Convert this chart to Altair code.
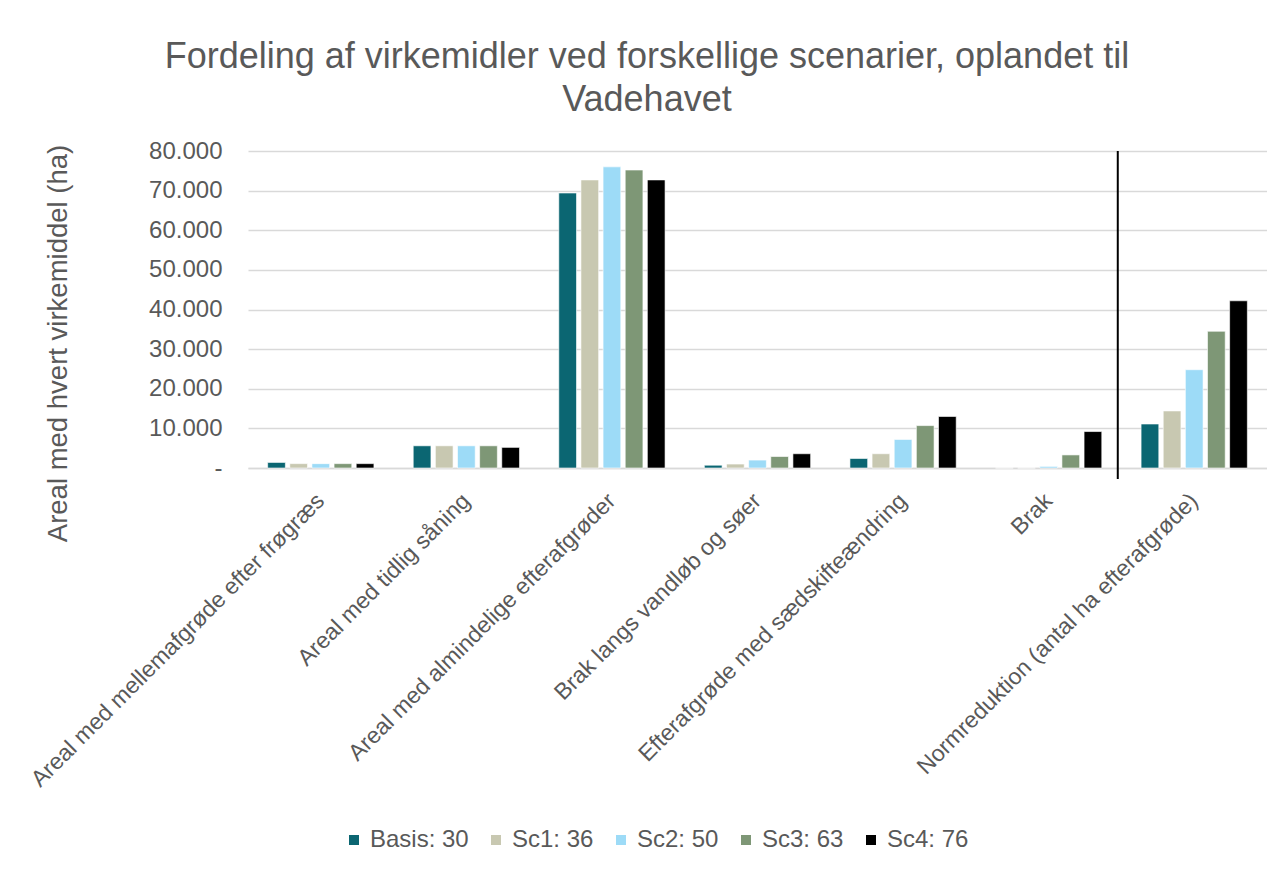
import altair as alt
import pandas as pd

categories = [
    "Areal med mellemafgrøde efter frøgræs",
    "Areal med tidlig såning",
    "Areal med almindelige efterafgrøder",
    "Brak langs vandløb og søer",
    "Efterafgrøde med sædskifteændring",
    "Brak",
    "Normreduktion (antal ha efterafgrøde)",
]
scenarios = ["Basis: 30", "Sc1: 36", "Sc2: 50", "Sc3: 63", "Sc4: 76"]
colors = ["#0b6672", "#c8c8b1", "#9ddbf7", "#7e9776", "#000000"]

basis = [1400, 5600, 69400, 700, 2400, 0, 11100]
sc1 = [1100, 5600, 72700, 1000, 3600, 0, 14400]
sc2 = [1100, 5600, 76000, 2000, 7200, 400, 24800]
sc3 = [1100, 5600, 75200, 2900, 10700, 3300, 34500]
sc4 = [1100, 5200, 72700, 3600, 13000, 9200, 42200]

series = [basis, sc1, sc2, sc3, sc4]
rows = []
for s, vals in zip(scenarios, series):
    for c, v in zip(categories, vals):
        rows.append({"kat": c, "scen": s, "val": v})
df = pd.DataFrame(rows)

sep_df = pd.DataFrame({"kat": ["Brak"]})

FONT = "Liberation Sans"
GREY = "#595959"

xscale = alt.Scale(domain=categories, paddingInner=0.27, paddingOuter=0.135)

bars = alt.Chart(df).mark_bar(stroke="white", strokeWidth=0.6).encode(
    x=alt.X(
        "kat:N",
        scale=xscale,
        sort=categories,
        axis=alt.Axis(
            title=None,
            labelAngle=-45,
            labelAlign="right",
            labelBaseline="middle",
            labelFontSize=23,
            labelColor=GREY,
            labelFont=FONT,
            labelPadding=29,
            ticks=False,
            domainColor="#d9d9d9",
            domainWidth=1.5,
            labelLimit=700,
        ),
    ),
    xOffset=alt.XOffset("scen:N", sort=scenarios, scale=alt.Scale(paddingInner=0.2)),
    y=alt.Y(
        "val:Q",
        scale=alt.Scale(domain=[0, 80000]),
        axis=alt.Axis(
            title="Areal med hvert virkemiddel (ha)",
            titleFontSize=27.5,
            titleFontWeight="normal",
            titleColor=GREY,
            titleFont=FONT,
            titlePadding=76,
            titleY=192,
            values=[0, 10000, 20000, 30000, 40000, 50000, 60000, 70000, 80000],
            labelExpr="datum.value == 0 ? '-' : replace(format(datum.value, ','), ',', '.')",
            labelFontSize=24,
            labelColor=GREY,
            labelFont=FONT,
            labelPadding=26,
            ticks=False,
            domain=False,
            gridColor="#d9d9d9",
            gridWidth=1.5,
        ),
    ),
    color=alt.Color(
        "scen:N",
        sort=scenarios,
        scale=alt.Scale(domain=scenarios, range=colors),
        legend=alt.Legend(
            title=None,
            orient="none",
            legendX=94,
            legendY=677,
            direction="horizontal",
            gridAlign="none",
            symbolType="square",
            symbolSize=100,
            symbolStrokeWidth=0,
            labelFontSize=24,
            labelColor=GREY,
            labelFont=FONT,
            columnPadding=15,
            labelOffset=4,
        ),
    ),
)

sep = alt.Chart(sep_df).mark_rule(color="black", strokeWidth=2, xOffset=16).encode(
    x=alt.X("kat:N", scale=xscale, sort=categories, bandPosition=1),
    y=alt.value(0),
    y2=alt.value(328),
)

chart = (
    alt.layer(bars, sep)
    .properties(
        width=1019,
        height=317,
        title=alt.TitleParams(
            text=["Fordeling af virkemidler ved forskellige scenarier, oplandet til", "Vadehavet"],
            fontSize=36,
            fontWeight="normal",
            color=GREY,
            font=FONT,
            anchor="middle",
            frame="bounds",
            lineHeight=43,
            offset=20,
        ),
        padding={"left": 18, "top": 31, "right": 0, "bottom": 6},
        background="white",
    )
    .configure_view(stroke=None)
)

chart.save("out.html", embed_options={"renderer": "svg", "actions": False})
